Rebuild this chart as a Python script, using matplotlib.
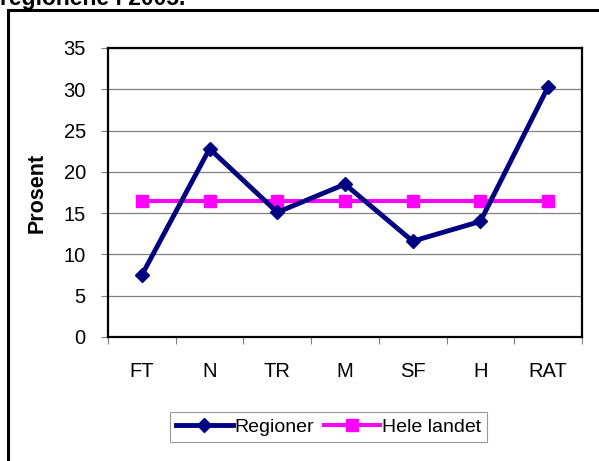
import matplotlib
matplotlib.use("Agg")
import matplotlib.pyplot as plt
from matplotlib.patches import Rectangle

plt.rcParams['font.family'] = ['Liberation Sans', 'DejaVu Sans']

regions = ["FT", "N", "TR", "M", "SF", "H", "RAT"]
regioner = [7.5, 22.8, 15.1, 18.5, 11.6, 14.0, 30.3]
hele_landet = [16.5, 16.5, 16.5, 16.5, 16.5, 16.5, 16.5]

fig = plt.figure(figsize=(5.99, 4.61), dpi=100)
ax = fig.add_axes([0.1803, 0.269, 0.7913, 0.6269])

x = range(len(regions))
ax.plot(x, regioner, color='#000080', lw=3.5, marker='D', ms=7,
        label='Regioner', zorder=3)
ax.plot(x, hele_landet, color='#FF00FF', lw=2.9, marker='s', ms=8.5,
        label='Hele landet', zorder=2)

ax.set_xlim(-0.5, len(regions) - 0.5)
ax.set_ylim(0, 35)
ax.set_yticks(range(0, 36, 5))
ax.set_xticks(list(x))
ax.set_xticklabels(regions)
ax.set_xticks([i - 0.5 for i in range(len(regions) + 1)], minor=True)
ax.tick_params(axis='x', which='major', length=0, pad=18, labelsize=14.5)
ax.tick_params(axis='x', which='minor', length=5, width=0.8, direction='out', color='#808080')
ax.tick_params(axis='y', length=5, width=0.8, direction='out', labelsize=14.5,
               color='#808080', pad=11)
ax.yaxis.grid(True, color='#808080', lw=0.9)
ax.set_axisbelow(True)
for s in ax.spines.values():
    s.set_linewidth(1.6)
    s.set_color('black')

ax.set_ylabel('Prosent', fontsize=15.5, fontweight='bold', labelpad=11)

leg = fig.legend(loc='center', bbox_to_anchor=(0.549, 0.0738), ncol=2,
                 frameon=True, fancybox=False, fontsize=14, handlelength=2.9,
                 columnspacing=0.5, handletextpad=0.1, borderpad=0.3)
leg.get_frame().set_edgecolor('#808080')
leg.get_frame().set_linewidth(0.8)

# outer chart frame, cut off on right and bottom
fig.add_artist(Rectangle((8 / 599, -0.1), 1.2, 1 - 10 / 461 + 0.1,
                         transform=fig.transFigure, fill=False,
                         edgecolor='black', lw=2.2))

fig.text(0.0, 1 - 5 / 461, 'regionene i 2005.', fontsize=16.5, fontweight='bold',
         va='baseline', ha='left')

fig.savefig('out.png', dpi=100)
